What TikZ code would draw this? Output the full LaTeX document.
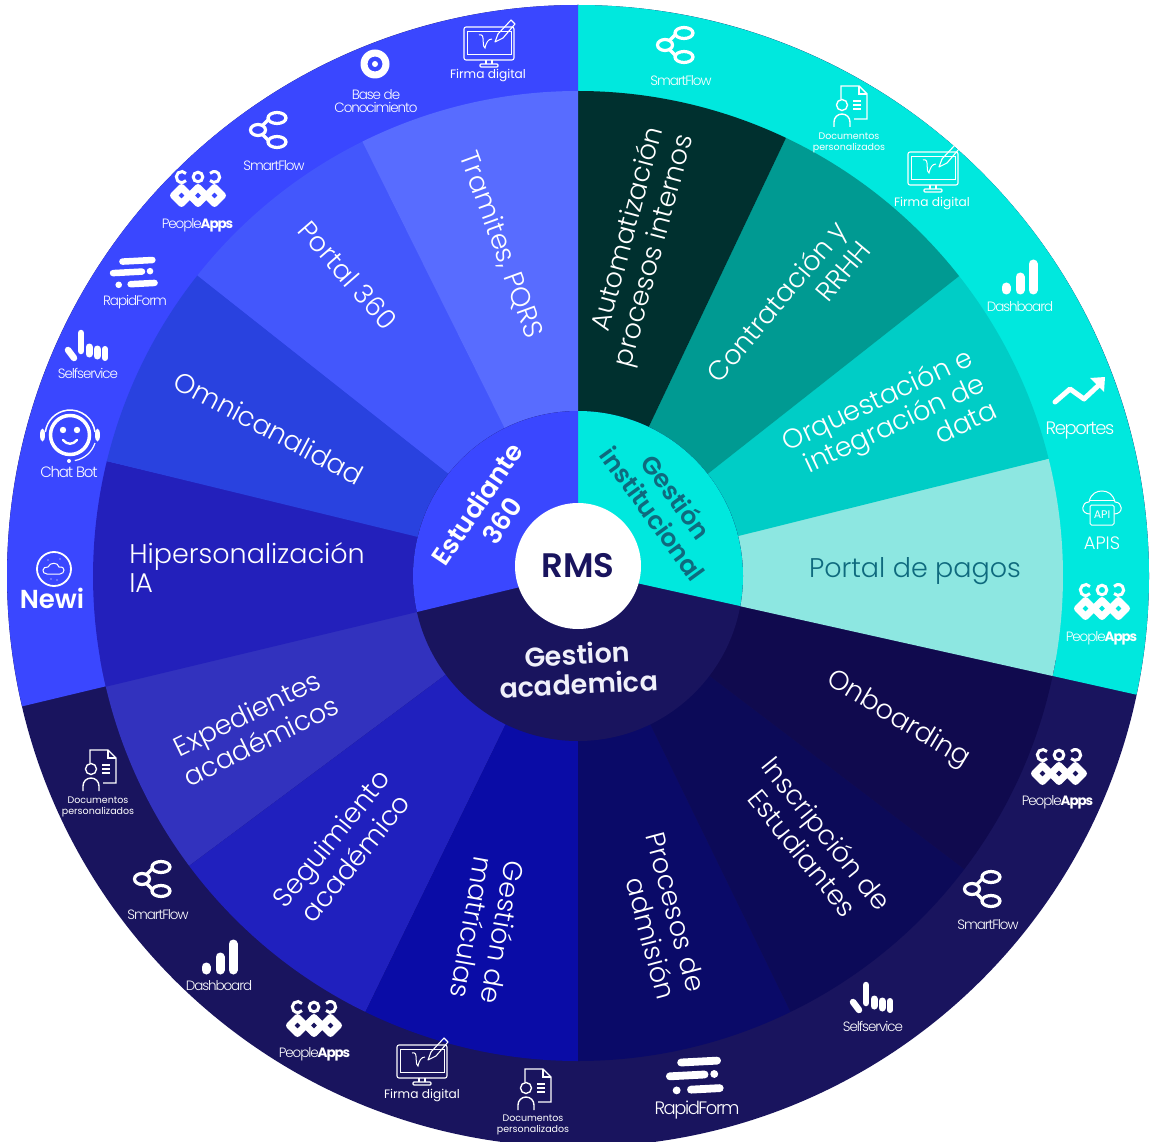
\documentclass[tikz,border=0pt]{standalone}
\usepackage{fontspec}
\setmainfont{Poppins Light}[BoldFont={Poppins SemiBold}]
\newfontfamily\tightfont{Poppins Light}[LetterSpace=-8,BoldFont={Poppins Bold}]
\newfontfamily\smallfont{Poppins}
\definecolor{blueout}{HTML}{3A47FF}
\definecolor{cyanout}{HTML}{00E8DE}
\definecolor{darkout}{HTML}{19145E}
\definecolor{tealtext}{HTML}{0F6A7E}
\definecolor{softwhite}{HTML}{F0F0FA}
\tikzset{
  wheeltext/.style={text=white,font=\fontsize{27}{31}\selectfont,align=center,inner sep=0pt},
  ringtext/.style={font=\bfseries\fontsize{27}{30}\selectfont,align=center,inner sep=0pt},
  iconlabel/.style={text=white,font=\tightfont\fontsize{13.5}{13.5}\selectfont,align=center,inner sep=0pt},
  firmalabel/.style={text=white,font=\smallfont\fontsize{12.2}{13}\selectfont,inner sep=0pt},
  doclabel/.style={text=white,font=\smallfont\fontsize{9.5}{11}\selectfont,align=center,inner sep=0pt},
  smartflowicon/.pic={
    \draw[white,line width=3.2] (8,12) ellipse [x radius=9,y radius=5.5];
    \draw[white,line width=3.2] (8,-12) ellipse [x radius=9,y radius=5.5];
    \draw[white,line width=3.2] (-11,0) ellipse [x radius=7.5,y radius=5.5];
    \draw[white,line width=3.2] (-6,5) -- (-1,10) (-6,-5) -- (-1,-10);
  },
  peopleicon/.pic={
    \draw[white,line width=3] (-12,18.5) arc[start angle=40,end angle=320,radius=5.5];
    \draw[white,line width=3] (0,15) circle (4.8);
    \draw[white,line width=3] (12,11.5) arc[start angle=220,end angle=500,radius=5.5];
    \foreach \c in {-16.5,0,16.5}
      \draw[white,line width=7,line join=round] (\c-8,-3.5) -- (\c,4.5) -- (\c+8,-3.5) -- (\c,-11.5) -- cycle;
  },
  dashicon/.pic={
    \draw[white,line width=9,line cap=round] (-13,-14) -- (-13,-11);
    \draw[white,line width=9,line cap=round] (1,-14) -- (1,-1);
    \draw[white,line width=9,line cap=round] (14,-14) -- (14,12);
  },
  selficon/.pic={
    \draw[white,line width=6.5,line cap=round] (-20,-4) -- (-14,-12);
    \draw[white,line width=6.5,line cap=round] (-7,13) -- (-7,-5);
    \draw[white,line width=7,line cap=round] (1,-1) -- (1,-8);
    \draw[white,line width=7,line cap=round] (9,-3) -- (9,-10);
    \draw[white,line width=6,line cap=round] (17,-3) -- (17,-12);
  },
  pics/rapidicon/.style={code={
    \begin{scope}[rotate=3,white,line width=#1,line cap=round]
      \draw (-11,11) -- (19,11);
      \draw (-21,0) -- (8,0) (16,0) -- (16.1,0);
      \draw (-16,-12) -- (-15.9,-12) (-4,-12) -- (20,-12);
    \end{scope}
  }},
  docicon/.pic={
    \draw[white,line width=1.4] (-9,8) -- (-9,21) -- (9,21) -- (17,13) -- (17,-12) -- (4,-12);
    \draw[white,line width=1.2] (9,21) -- (9,13) -- (17,13);
    \draw[white,line width=1.4] (-8,2) circle (5.5);
    \draw[white,line width=1.4] (-16,-20) -- (-16,-15) arc[start angle=180,end angle=0,radius=8] -- (0,-20);
    \draw[white,line width=1.2] (3,6) -- (11,6) (3,2) -- (11,2) (3,-2) -- (11,-2);
  },
  firmaicon/.pic={
    \draw[white,line width=1.1,rounded corners=2] (-25,-15) rectangle (25,18);
    \draw[white,line width=.9] (-22,-9) rectangle (22,14);
    \draw[white,line width=1.1] (-3,-15) -- (-3,-19) (3,-15) -- (3,-19);
    \draw[white,line width=1.1,rounded corners=1] (-9,-19) rectangle (9,-22);
    \draw[white,line width=1] (-10,10) .. controls (-3,12) and (-8,0) .. (-4,-3) .. controls (-3,2) and (-1,6) .. (3,6);
    \draw[white,line width=1.1,line join=round] (6,3) -- (9,11) -- (22,25) -- (26,21) -- (14,7) -- cycle;
  },
  chaticon/.pic={
    \draw[white,line width=1.5] (25,3) arc[start angle=7,end angle=173,radius=25];
    \draw[white,line width=3.5] (0,0) circle (19.5);
    \fill[white] (-27.5,0) ellipse [x radius=2.5,y radius=6.5];
    \fill[white] (27.5,0) ellipse [x radius=2.5,y radius=6.5];
    \fill[white] (-7,5) circle (3.2) (7,5) circle (3.2);
    \draw[white,line width=2.4,line cap=round] (-7,-5) .. controls (-3,-10) and (3,-10) .. (7,-5);
    \draw[white,line width=1.2] (25,-8) arc[start angle=-18,end angle=-80,radius=26];
    \fill[white] (-1,-26) circle (2);
  },
  newiicon/.pic={
    \draw[white,line width=1.8] (0,0) circle (17);
    \draw[white,line width=1] (-7,-5) .. controls (-13,-5) and (-12,3) .. (-6,2)
      .. controls (-4,7) and (4,7) .. (5,2) .. controls (12,3) and (11,-5) .. (6,-5) -- cycle;
    \fill[white] (-6,9) circle (.6) (6,10) circle (.7) (-3,-10) circle (.6) (3,-11) circle (.6);
  },
  apiicon/.pic={
    \draw[white,line width=1] (-12,-6) .. controls (-22,-6) and (-21,6) .. (-13,6)
      .. controls (-11,15) and (-5,17) .. (0,17) .. controls (6,17) and (11,14) .. (13,6)
      .. controls (21,6) and (22,-6) .. (12,-6);
    \draw[white,line width=1] (-13,8) -- (13,8);
    \draw[white,line width=1,fill=cyanout,rounded corners=1.5] (-12,-17) rectangle (12,3);
    \node[text=white,font=\smallfont\fontsize{11}{11}\selectfont,inner sep=0pt] (apibox) at (0,-7) {API};
  },
}
\begin{document}
\begin{tikzpicture}[x=1pt,y=1pt]
\clip (0,0) rectangle (1152,-1142);
\begin{scope}[shift={(578,-576)}]
  % outer ring
  \fill[darkout] (0,0) circle (571);
  \fill[cyanout] (0,6) -- (-12:571) arc[start angle=-12,end angle=90,radius=571] -- cycle;
  \fill[blueout] (0,3) -- (90:571) arc[start angle=90,end angle=193.2,radius=571] -- cycle;
  % wedges
  \foreach \from/\to/\apex/\colr in {190/216.7/0/3232BE, 216.7/244/0/2020BE, 244/270/0/0A0CA6, 270/296/0/0A0A68,
      296/322.8/0/0C0A58, 322.8/350/0/100A4E, -11.9/14/6/8DE7E1, 14/38.2/0/00CDC6, 38.2/64.6/0/009A92, 64.6/90/0/00302F,
      166.3/193.2/2.6/2320BB, 141.7/166.3/0/2942DF, 116.4/141.7/0/4357FC, 90/116.4/0/586CFF}{
    \definecolor{wedgecol}{HTML}{\colr}
    \fill[wedgecol] (0,\apex) -- (\from:485) arc[start angle=\from,end angle=\to,radius=485] -- cycle;
  }
  % inner ring
  \fill[darkout] (0,0) circle (165);
  \fill[cyanout] (0,6) -- (-10.5:165) arc[start angle=-10.5,end angle=90,radius=165] -- cycle;
  \fill[blueout] (0,3) -- (90:165) arc[start angle=90,end angle=192.6,radius=165] -- cycle;
  \node[circle,fill=white,minimum size=126pt,inner sep=0pt,text=darkout,font=\bfseries\fontsize{34}{34}\selectfont] (rms) at (0,10) {\raisebox{1.5pt}{RMS}};
\end{scope}

\foreach \x/\y/\rot/\txt [count=\i] in {501/245/-70/{Tramites, PQRS}, 348/275/-49/{Portal 360}, 269/428/-28/Omnicanalidad,
    254/727/26/{Expedientes\\académicos}, 343/848/51/{Seguimiento\\académico}, 488/930/-100/{Gestión de\\matrículas},
    815/843/-51/{Inscripción de\\Estudiantes}, 898/720/-31/Onboarding}
  \node[wheeltext,rotate=\rot] (wheel\i) at (\x,-\y) {\txt};
\node[wheeltext,align=left,font=\fontsize{27}{29}\selectfont] (hiper) at (247,-568) {Hipersonalización\\IA};
\node[wheeltext,text=tealtext] (pagos) at (915,-571) {Portal de pagos};
\node[wheeltext,align=right,rotate=25,font=\fontsize{27}{29}\selectfont] (orquesta) at (889,-425) {Orquestación e\\integración de\\data};
\node[wheeltext,align=right,rotate=50] (contrata) at (788,-311) {Contratación y\\RRHH};
\node[wheeltext,align=right,rotate=75] (automat) at (640,-247) {Automatización\\procesos internos};
\node[wheeltext,align=right,rotate=-75] (procesos) at (661,-916) {Procesos de\\admisión};

\node[ringtext,text=white,rotate=56,font=\bfseries\fontsize{26}{30}\selectfont] (estudiante) at (489,-512) {Estudiante\\360};
\node[ringtext,text=tealtext,rotate=-54,font=\bfseries\fontsize{25}{29}\selectfont] (institucional) at (665,-505) {Gestión\\institucional};
\node[ringtext,text=softwhite,rotate=3] (academica) at (578,-669) {Gestion\\academica};

% icons
\foreach \ix/\iy/\lx/\ly [count=\i] in {269/130/274/166, 676/45/681/81, 983/889/988/925, 153/879/158/915}{
  \pic at (\ix,-\iy) {smartflowicon};
  \node[iconlabel] (smartflow\i) at (\lx,-\ly) {SmartFlow};
}
\foreach \ix/\iy/\lx/\ly [count=\i] in {198/192/197/225, 1102/605/1101/638, 1059/770/1057/802, 314/1022/314/1054}{
  \pic at (\ix,-\iy) {peopleicon};
  \node[iconlabel] (people\i) at (\lx,-\ly) {People\textbf{Apps}};
}
\foreach \ix/\iy/\lx/\ly [count=\i] in {1019/276/1020/307, 219/956/219/986}{
  \pic at (\ix,-\iy) {dashicon};
  \node[iconlabel] (dash\i) at (\lx,-\ly) {Dashboard};
}
\foreach \ix/\iy/\lx/\ly [count=\i] in {88/346/88/373, 873/998/873/1026}{
  \pic at (\ix,-\iy) {selficon};
  \node[iconlabel] (self\i) at (\lx,-\ly) {Selfservice};
}
\foreach \ix/\iy/\lx/\ly [count=\i] in {489/45/488/76, 933/170/932/204, 422/1063/422/1095}{
  \pic at (\ix,-\iy) {firmaicon};
  \node[firmalabel] (firma\i) at (\lx,-\ly) {Firma digital};
}
\foreach \ix/\iy/\lx/\ly [count=\i] in {850/107/849/143, 99/771/98/807, 534/1090/533/1125}{
  \pic at (\ix,-\iy) {docicon};
  \node[doclabel] (docs\i) at (\lx,-\ly) {Documentos\\personalizados};
}
\pic at (134,-272) {rapidicon=6.5};
\node[iconlabel] (rapid1) at (135,-302) {RapidForm};
\pic[scale=1.2] at (695,-1075) {rapidicon=7.8};
\node[iconlabel,font=\tightfont\fontsize{18}{18}\selectfont] (rapid2) at (697,-1110) {RapidForm};

\fill[white,even odd rule] (375,-64) circle (14.5) (375,-64) circle (7.5);
\fill[white] (375,-64) circle (3);
\node[iconlabel] (base) at (376,-101) {Base de\\Conocimiento};
\pic at (70,-435) {chaticon};
\node[iconlabel,font=\tightfont\fontsize{15}{15}\selectfont] (chat) at (69,-472) {Chat Bot};
\pic at (54,-569) {newiicon};
\node[text=white,font=\bfseries\fontsize{26}{26}\selectfont,inner sep=0pt] (newi) at (52,-598) {Newi};
\draw[white,line width=5,line cap=round,line join=round] (1055,-402) -- (1070,-389) -- (1084,-399) -- (1100,-384);
\fill[white] (1090,-378) -- (1105,-377) -- (1104,-392) -- cycle;
\node[iconlabel,font=\tightfont\fontsize{18}{18}\selectfont] (reportes) at (1080,-431) {Reportes};
\pic at (1102,-508) {apiicon};
\node[text=white,font=\fontsize{18}{18}\selectfont,inner sep=0pt] (apis) at (1102,-543) {APIS};
\end{tikzpicture}
\end{document}
